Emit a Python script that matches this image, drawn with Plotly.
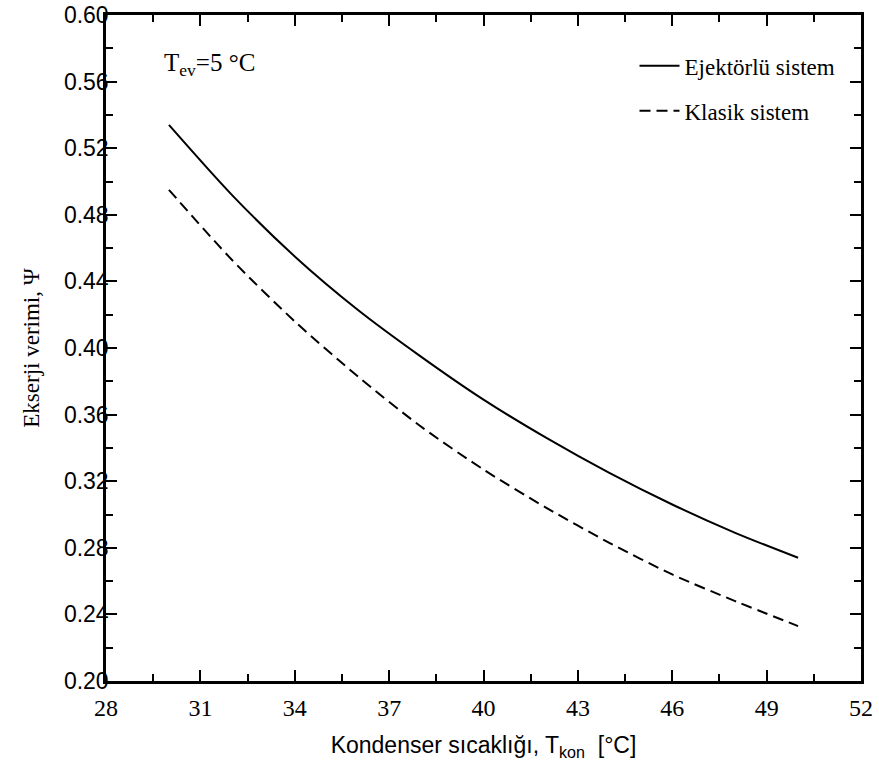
import plotly.graph_objects as go

# Condenser temperature [°C]
t_kon = [30, 32, 34, 36, 38, 40, 42, 44, 46, 48, 50]

# Exergy efficiency, ejector-assisted cycle
psi_ejektor = [0.534, 0.492, 0.455, 0.423, 0.395, 0.369, 0.346, 0.325, 0.306, 0.289, 0.274]

# Exergy efficiency, conventional cycle
psi_klasik = [0.495, 0.453, 0.416, 0.383, 0.353, 0.327, 0.304, 0.283, 0.264, 0.248, 0.233]

x_ticks = [28, 31, 34, 37, 40, 43, 46, 49, 52]
y_ticks = [0.20, 0.24, 0.28, 0.32, 0.36, 0.40, 0.44, 0.48, 0.52, 0.56, 0.60]

SERIF = "Liberation Serif, Times New Roman, serif"
SANS = "Liberation Sans, Arial, sans-serif"

fig = go.Figure()
fig.add_trace(go.Scatter(
    x=t_kon, y=psi_ejektor, mode="lines", name="Ejektörlü sistem",
    line=dict(color="black", width=2, shape="spline", smoothing=0.8), legendgroup="a",
))
fig.add_trace(go.Scatter(
    x=t_kon, y=psi_klasik, mode="lines", name="Klasik sistem",
    line=dict(color="black", width=2, shape="spline", smoothing=0.8, dash="11px,6px"),
    legendgroup="b",
))

axis_common = dict(
    showline=True, linecolor="black", linewidth=2.5, mirror="allticks",
    ticks="inside", ticklen=11, tickwidth=1.5, tickcolor="black",
    showgrid=False, zeroline=False, automargin=False,
)

fig.update_xaxes(
    range=[28, 52], tickvals=x_ticks, ticktext=[str(v) for v in x_ticks],
    tickfont=dict(family=SERIF, size=24, color="black"),
    ticklabelstandoff=3,
    minor=dict(dtick=1.5, tick0=28, ticks="inside", ticklen=7, tickwidth=1.5,
               tickcolor="black", showgrid=False),
    title=dict(text="Kondenser sıcaklığı, T<sub>kon</sub>  [°C]",
               font=dict(family=SANS, size=23, color="black"), standoff=18),
    **axis_common,
)
fig.update_yaxes(
    range=[0.20, 0.60], tickvals=y_ticks, ticktext=[f"{v:.2f}" for v in y_ticks],
    tickfont=dict(family=SANS, size=23, color="black"),
    ticklabelstandoff=-10,
    minor=dict(dtick=0.02, tick0=0.20, ticks="inside", ticklen=7, tickwidth=1.5,
               tickcolor="black", showgrid=False),
    title=dict(text="Ekserji verimi, Ψ",
               font=dict(family=SERIF, size=23, color="black"), standoff=18),
    **axis_common,
)

fig.add_annotation(
    xref="paper", yref="paper", x=0.0736, y=0.925, xanchor="left", yanchor="middle",
    text="T<sub>ev</sub>=5 °C", showarrow=False,
    font=dict(family=SERIF, size=25, color="black"),
)

fig.update_layout(
    width=879, height=767,
    margin=dict(l=106, r=18, t=15, b=86),
    paper_bgcolor="white", plot_bgcolor="white",
    showlegend=True,
    legend=dict(
        x=0.70, y=0.956, xanchor="left", yanchor="top",
        font=dict(family=SERIF, size=23, color="black"),
        bgcolor="rgba(0,0,0,0)", borderwidth=0,
        traceorder="grouped", tracegroupgap=12, itemwidth=40,
    ),
)

fig.write_html("out.html")
